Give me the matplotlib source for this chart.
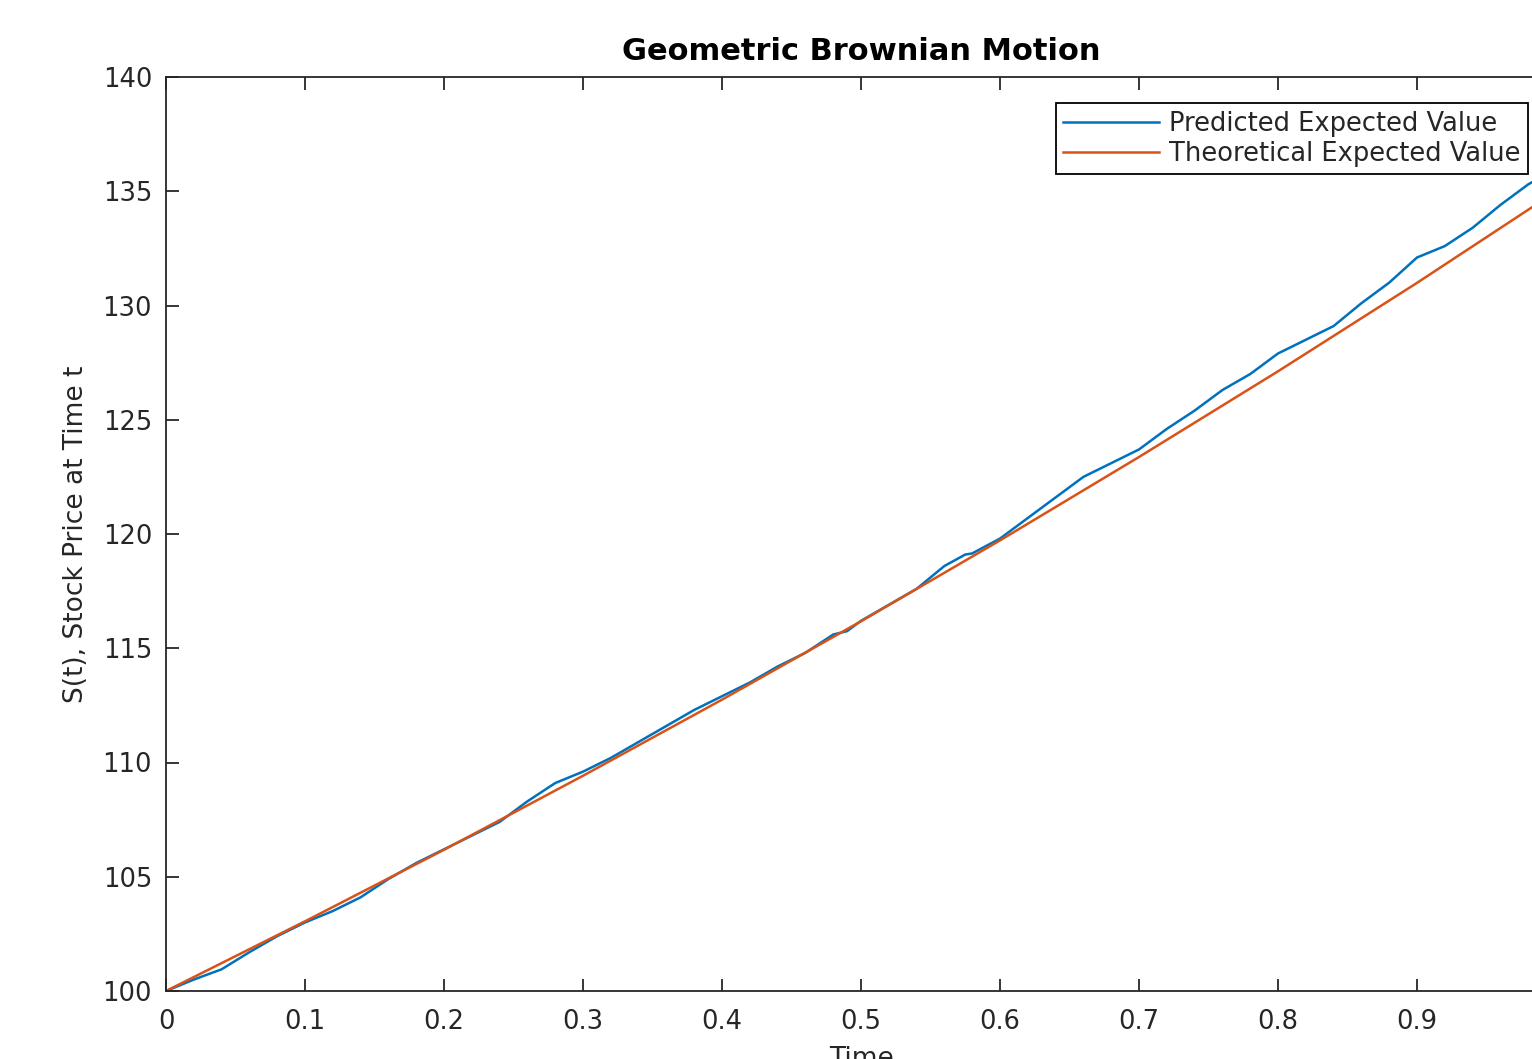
import matplotlib.pyplot as plt

# time grid and values
t_pred = [0.00, 0.02, 0.04, 0.06, 0.08, 0.10, 0.12, 0.14, 0.16, 0.18,
          0.20, 0.22, 0.24, 0.26, 0.28, 0.30, 0.32, 0.34, 0.36, 0.38,
          0.40, 0.42, 0.44, 0.46, 0.48, 0.49, 0.50, 0.52, 0.54, 0.56,
          0.575, 0.58, 0.60, 0.62, 0.64, 0.66, 0.68, 0.70, 0.72, 0.74,
          0.76, 0.78, 0.80, 0.82, 0.84, 0.86, 0.88, 0.90, 0.92, 0.94,
          0.96, 0.98, 1.00]
predicted = [100.0, 100.5, 100.95, 101.7, 102.4, 103.0, 103.5, 104.1, 104.9, 105.6,
             106.2, 106.8, 107.4, 108.3, 109.1, 109.6, 110.2, 110.9, 111.6, 112.3,
             112.9, 113.5, 114.2, 114.8, 115.6, 115.75, 116.2, 116.9, 117.6, 118.6,
             119.1, 119.15, 119.8, 120.7, 121.6, 122.5, 123.1, 123.7, 124.6, 125.4,
             126.3, 127.0, 127.9, 128.5, 129.1, 130.1, 131.0, 132.1, 132.6, 133.4,
             134.4, 135.3, 136.0]

t_theo = [0.0, 0.1, 0.2, 0.3, 0.4, 0.5, 0.6, 0.7, 0.8, 0.9, 1.0]
theoretical = [100.0, 103.05, 106.18, 109.42, 112.75, 116.18,
               119.72, 123.37, 127.12, 130.99, 134.99]

# the tick at 1 falls outside the cropped picture, so it is left out
x_ticks = [0, 0.1, 0.2, 0.3, 0.4, 0.5, 0.6, 0.7, 0.8, 0.9]
x_labels = ['0', '0.1', '0.2', '0.3', '0.4', '0.5', '0.6', '0.7', '0.8', '0.9']
y_ticks = [100, 105, 110, 115, 120, 125, 130, 135, 140]

plt.rcParams['font.family'] = ['DejaVu Sans']
text_col = '#262626'

fig = plt.figure(figsize=(15.32, 10.59), dpi=100)
# the reference is cropped: right spine lies past the image edge
ax = fig.add_axes([166 / 1532, 68 / 1059, 1390 / 1532, 914 / 1059])

ax.plot(t_pred, predicted, color='#0072BD', lw=1.8, label='Predicted Expected Value')
ax.plot(t_theo, theoretical, color='#D95319', lw=1.8, label='Theoretical Expected Value')

ax.set_xlim(0, 1)
ax.set_ylim(100, 140)
ax.set_xticks(x_ticks)
ax.set_xticklabels(x_labels)
ax.set_yticks(y_ticks)
ax.tick_params(direction='in', length=9, width=1.3, top=True, right=True,
               labelsize=18.5, colors=text_col)
ax.tick_params(axis='x', pad=13)
ax.tick_params(axis='y', pad=10)
for s in ax.spines.values():
    s.set_linewidth(1.3)
    s.set_color(text_col)

ax.set_title('Geometric Brownian Motion', fontsize=22, fontweight='bold', pad=12)
ax.set_xlabel('Time', fontsize=19, color=text_col, labelpad=8)
ax.set_ylabel('S(t), Stock Price at Time t', fontsize=19, color=text_col, labelpad=10)

leg = ax.legend(loc='upper right', bbox_to_anchor=(1362 / 1390, 888 / 914),
                borderaxespad=0, fontsize=18.5, fancybox=False, framealpha=1,
                edgecolor='black', handlelength=3.7, handletextpad=0.4,
                labelspacing=0.15, borderpad=0.3)
leg.get_frame().set_linewidth(1.3)
for txt in leg.get_texts():
    txt.set_color(text_col)

fig.savefig('out.png', dpi=100)
